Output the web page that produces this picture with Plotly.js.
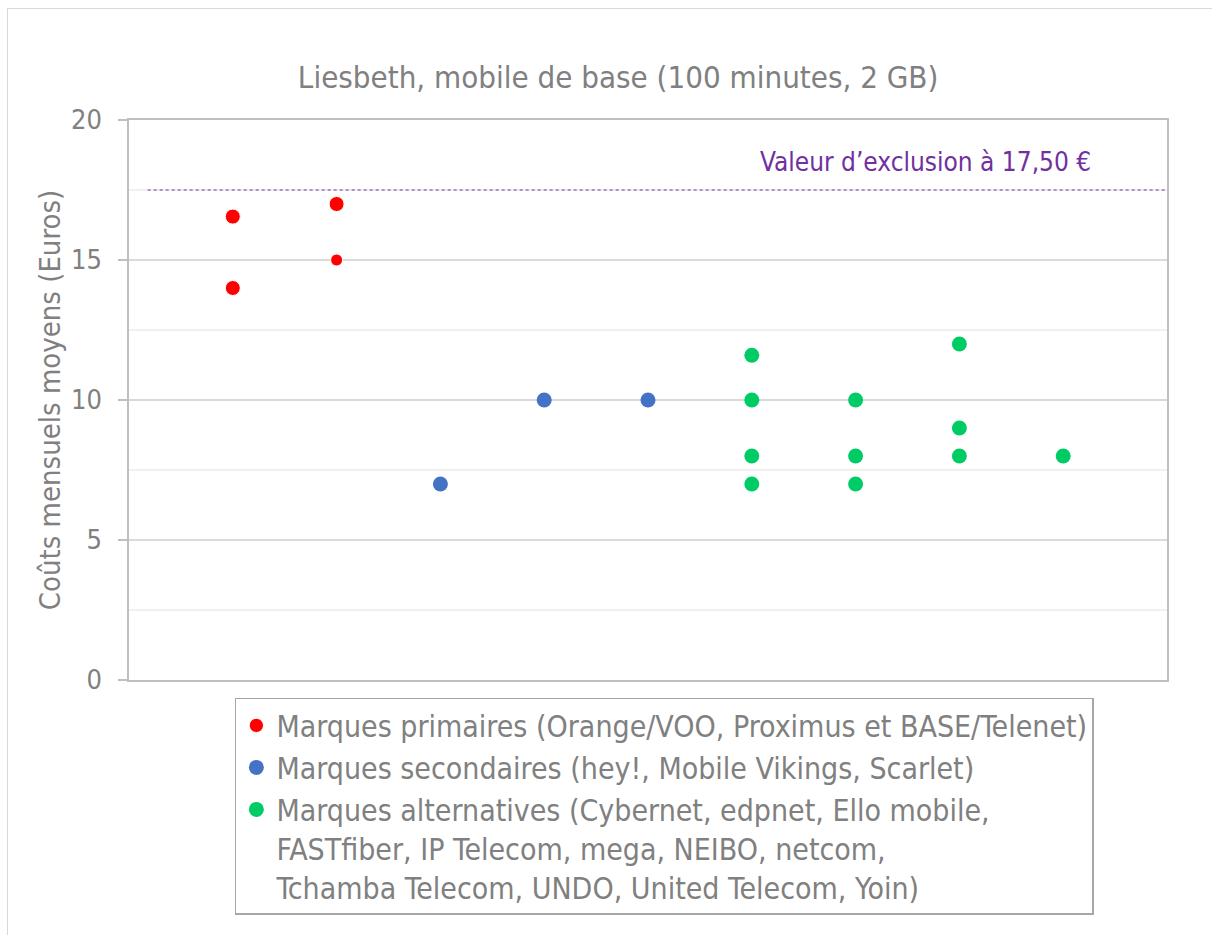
<!DOCTYPE html>
<html>
<head>
<meta charset="utf-8">
<script src="https://cdn.plot.ly/plotly-3.0.1.min.js"></script>
<style>
  html, body { margin: 0; background: #fff; overflow: hidden; }
  #plot { width: 1212px; height: 935px; }
  #frame { position: absolute; left: 7px; top: 8px; width: 1205px; height: 927px;
           border-left: 1px solid #d9d9d9; border-top: 1px solid #d9d9d9; pointer-events: none; }
</style>
</head>
<body>
<div id="plot"></div>
<div id="frame"></div>
<script>
// Liesbeth, mobile de base - average monthly cost per offer
var primX = [1, 1, 2, 2];
var primY = [16.55, 14, 17, 15];
var secX = [3, 4, 5];
var secY = [7, 10, 10];
var altX = [6, 6, 6, 6, 7, 7, 7, 8, 8, 8, 9];
var altY = [11.6, 10, 8, 7, 10, 8, 7, 12, 9, 8, 8];
var seuil = 17.5;

var primName = "Marques primaires (Orange/VOO, Proximus et BASE/Telenet)";
var secName = "Marques secondaires (hey!, Mobile Vikings, Scarlet)";
var altName = "Marques alternatives (Cybernet, edpnet, Ello mobile,<br>FASTfiber, IP Telecom, mega, NEIBO, netcom,<br>Tchamba Telecom, UNDO, United Telecom, Yoin)";

var narrow = "DejaVu Sans Condensed, Liberation Sans Narrow, sans-serif";
var grey = "#808080";

var primTrace = {
    x: primX, y: primY, name: primName,
    type: "scatter", mode: "markers",
    marker: {color: "#ff0000", size: [15, 15, 15, 12], opacity: 1}
};
var secTrace = {
    x: secX, y: secY, name: secName,
    type: "scatter", mode: "markers",
    marker: {color: "#4472c4", size: 15}
};
var altTrace = {
    x: altX, y: altY, name: altName,
    type: "scatter", mode: "markers",
    marker: {color: "#00cc66", size: 15}
};

var layout = {
    width: 1212, height: 935,
    margin: {l: 129, r: 45, t: 120, b: 255},
    paper_bgcolor: "#fff", plot_bgcolor: "#fff",
    showlegend: true,
    title: {
        text: "Liesbeth, mobile de base (100 minutes, 2 GB)",
        font: {family: narrow, size: 31, color: grey},
        xref: "container", x: 0.51, xanchor: "center",
        yref: "container", y: 0.918, yanchor: "middle"
    },
    xaxis: {
        range: [0, 10], showgrid: false, zeroline: false,
        showticklabels: false, ticks: "",
        showline: true, mirror: true, linecolor: "#bfbfbf", linewidth: 1.5
    },
    yaxis: {
        range: [0, 20], dtick: 5, zeroline: false,
        gridcolor: "#d9d9d9", gridwidth: 1.5,
        minor: {dtick: 2.5, showgrid: true, gridcolor: "#f0f0f0", gridwidth: 1.5},
        ticks: "outside", ticklen: 9, tickcolor: "#bfbfbf", tickwidth: 1.5,
        ticklabelstandoff: 11,
        tickfont: {family: narrow, size: 27, color: grey},
        showline: true, mirror: true, linecolor: "#bfbfbf", linewidth: 1.5,
        title: {
            text: "Coûts mensuels moyens (Euros)",
            font: {family: narrow, size: 29, color: grey},
            standoff: 2
        }
    },
    legend: {
        x: 0.102, xanchor: "left", y: -0.032, yanchor: "top",
        bordercolor: "#a6a6a6", borderwidth: 1.5, bgcolor: "#fff",
        font: {family: narrow, size: 30, color: grey},
        valign: "top", itemwidth: 30
    },
    shapes: [{
        type: "line", xref: "x", yref: "y",
        x0: 0.18, x1: 10, y0: seuil, y1: seuil,
        line: {color: "#7030a0", width: 1.2, dash: "dot"}
    }],
    annotations: [{
        text: "Valeur d’exclusion à 17,50 €",
        xref: "x", yref: "y", x: 9.29, y: 18.5,
        xanchor: "right", yanchor: "middle", showarrow: false,
        font: {family: narrow, size: 26, color: "#7030a0"}
    }]
};

var data = [primTrace, secTrace, altTrace];

Plotly.newPlot("plot", data, layout, {displayModeBar: false});
</script>
</body>
</html>
